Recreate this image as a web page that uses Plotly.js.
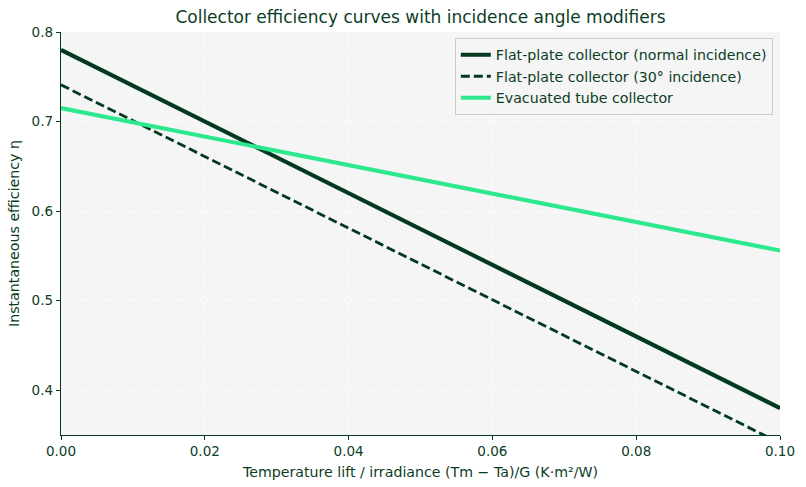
<!DOCTYPE html>
<html>
<head>
<meta charset="utf-8">
<script src="https://cdn.plot.ly/plotly-3.0.1.min.js"></script>
<style>html,body{margin:0;padding:0;background:#fff;}#chart{width:806px;height:487px;}</style>
</head>
<body>
<div id="chart"></div>
<script>
const xValues = [0, 0.01, 0.02, 0.03, 0.04, 0.05, 0.06, 0.07, 0.08, 0.09, 0.1];
const flatNormal = [0.78, 0.74, 0.70, 0.66, 0.62, 0.58, 0.54, 0.50, 0.46, 0.42, 0.38];
const flat30 = [0.741, 0.701, 0.661, 0.621, 0.581, 0.541, 0.501, 0.461, 0.421, 0.381, 0.341];
const evacuated = [0.715, 0.699, 0.683, 0.667, 0.651, 0.636, 0.620, 0.604, 0.588, 0.572, 0.556];
const seriesNames = ["Flat-plate collector (normal incidence)", "Flat-plate collector (30° incidence)", "Evacuated tube collector"];
const xTicks = [0, 0.02, 0.04, 0.06, 0.08, 0.1];
const xTickLabels = ["0.00", "0.02", "0.04", "0.06", "0.08", "0.10"];
const yTicks = [0.4, 0.5, 0.6, 0.7, 0.8];
const yTickLabels = ["0.4", "0.5", "0.6", "0.7", "0.8"];

const dark = "#023a1f";
const bright = "#2de88e";
const textColor = "#0b3d24";

const traces = [
  {x: xValues, y: flatNormal, name: seriesNames[0], mode: "lines", line: {color: dark, width: 4.1}},
  {x: xValues, y: flat30, name: seriesNames[1], mode: "lines", line: {color: dark, width: 2.8, dash: "9px,4px"}},
  {x: xValues, y: evacuated, name: seriesNames[2], mode: "lines", line: {color: bright, width: 4.1}}
];

const layout = {
  width: 806, height: 487,
  margin: {l: 61, r: 26, t: 32, b: 52},
  paper_bgcolor: "#ffffff",
  plot_bgcolor: "#f5f5f5",
  font: {family: "DejaVu Sans, sans-serif", size: 13.5, color: textColor},
  title: {text: "Collector efficiency curves with incidence angle modifiers", xref: "paper", x: 0.5, xanchor: "center", y: 0.965, yanchor: "middle", font: {size: 17, color: textColor}},
  xaxis: {
    range: [0, 0.1], tickvals: xTicks, ticktext: xTickLabels,
    showline: true, linecolor: dark, linewidth: 1.2, mirror: false,
    ticks: "outside", ticklen: 4, tickcolor: dark, tickwidth: 1,
    showgrid: true, gridcolor: "#ffffff", griddash: "dot", gridwidth: 1,
    zeroline: false,
    title: {text: "Temperature lift / irradiance (Tm − Ta)/G (K·m²/W)", font: {size: 14.2, color: textColor}, standoff: 8},
    tickfont: {size: 13.5, color: textColor}
  },
  yaxis: {
    range: [0.35, 0.8], tickvals: yTicks, ticktext: yTickLabels,
    showline: true, linecolor: dark, linewidth: 1.2, mirror: false,
    ticks: "outside", ticklen: 4, tickcolor: dark, tickwidth: 1,
    showgrid: true, gridcolor: "#ffffff", griddash: "dot", gridwidth: 1,
    zeroline: false,
    title: {text: "Instantaneous efficiency η", font: {size: 14.2, color: textColor}, standoff: 8},
    tickfont: {size: 13.5, color: textColor}
  },
  showlegend: true,
  legend: {
    x: 0.99, xanchor: "right", y: 0.985, yanchor: "top",
    bgcolor: "rgba(245,245,245,0.85)", bordercolor: "#cccccc", borderwidth: 1,
    font: {size: 14.2, color: textColor},
    tracegroupgap: 0, itemwidth: 30
  }
};

Plotly.newPlot("chart", traces, layout, {displayModeBar: false, staticPlot: true});
</script>
</body>
</html>
